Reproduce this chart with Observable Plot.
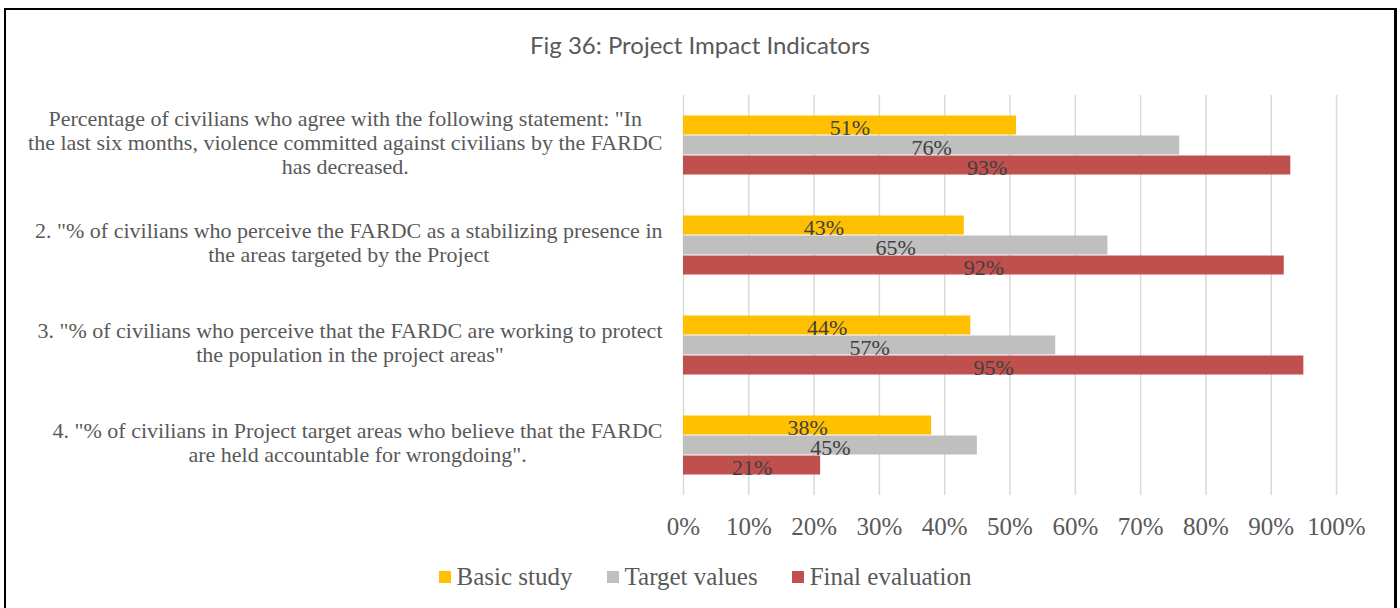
<!DOCTYPE html>
<html><head><meta charset="utf-8">
<script src="https://cdn.jsdelivr.net/npm/d3@7"></script>
<script src="https://cdn.jsdelivr.net/npm/@observablehq/plot@0.6"></script>
<style>
body{margin:0;background:#fff;}
#frame{position:absolute;left:4px;top:8px;width:1388px;height:640px;border:2px solid #000;border-right-width:3px;background:#fff;}
#title{height:70px;line-height:70px;text-align:center;font-family:Lato,sans-serif;font-size:24px;color:#595959;}
#chart svg{display:block;}
#legend{height:74px;display:flex;justify-content:center;align-items:center;font-family:"Liberation Serif",serif;font-size:25px;color:#595959;padding-left:10px;}
.item{display:flex;align-items:center;margin:0 17px;}
.sw{width:12px;height:12px;margin-right:6px;}
</style></head>
<body>
<div id="frame">
  <div id="title">Fig 36: Project Impact Indicators</div>
  <div id="chart"></div>
  <div id="legend"></div>
</div>
<script>
const categories = [
  "Percentage of civilians who agree with the following statement: \"In\nthe last six months, violence committed against civilians by the FARDC\nhas decreased.",
  "2. \"% of civilians who perceive the FARDC as a stabilizing presence in\nthe areas targeted by the Project",
  "3. \"% of civilians who perceive that the FARDC are working to protect\nthe population in the project areas\"",
  "4. \"% of civilians in Project target areas who believe that the FARDC\nare held accountable for wrongdoing\"."
];
const seriesNames = ["Basic study", "Target values", "Final evaluation"];
const seriesColors = ["#FFC000", "#BFBFBF", "#C0504D"];
const basicStudy = [51, 43, 44, 38];
const targetValues = [76, 65, 57, 45];
const finalEvaluation = [93, 92, 95, 21];
const xTicks = [0, 10, 20, 30, 40, 50, 60, 70, 80, 90, 100];

const seriesValues = [basicStudy, targetValues, finalEvaluation];
const data = [];
categories.forEach((c, i) => {
  seriesNames.forEach((s, j) => data.push({category: c, series: s, value: seriesValues[j][i]}));
});

// measure label widths to place the centred text block so its right edge sits just left of the axis
const canvas = document.createElement("canvas");
const ctx = canvas.getContext("2d");
const labelFont = 22;
ctx.font = `${labelFont}px "Liberation Serif"`;
const gap = 21;
const labelMarks = categories.map(c => {
  const w = d3.max(c.split("\n"), l => ctx.measureText(l).width);
  return Plot.text([c], {
    fy: d => d, text: d => d, frameAnchor: "left", textAnchor: "middle",
    dx: -(gap + w / 2), dy: -3, fontSize: labelFont, fill: "#595959", lineHeight: 1.09,
    fontFamily: "Liberation Serif"
  });
});

const chart = Plot.plot({
  width: 1388, height: 460,
  marginTop: 15, marginBottom: 45, marginLeft: 677, marginRight: 58,
  style: {fontFamily: "Liberation Serif", background: "#fff"},
  x: {domain: [0, 100]},
  fy: {domain: categories, padding: 0, axis: null},
  y: {domain: seriesNames, paddingInner: 0, paddingOuter: 0.915, axis: null},
  color: {domain: seriesNames, range: seriesColors},
  marks: [
    Plot.ruleX(xTicks, {x: d => d, stroke: "#d9d9d9", strokeWidth: 1.5}),
    Plot.barX(data, {x: "value", y: "series", fy: "category", fill: "series", insetTop: 0.5, insetBottom: 0.5}),
    Plot.text(data, {x: d => d.value / 2, y: "series", fy: "category", text: d => d.value + "%", fill: "#404040", fontSize: 22, dy: 2}),
    ...labelMarks,
    Plot.axisX({ticks: xTicks, tickFormat: d => d + "%", tickSize: 0, tickPadding: 22, fontSize: 25, fill: "#595959", label: null})
  ]
});
document.getElementById("chart").appendChild(chart);

const legend = document.getElementById("legend");
seriesNames.forEach((s, i) => {
  const it = document.createElement("div");
  it.className = "item";
  it.innerHTML = `<div class="sw" style="background:${seriesColors[i]}"></div><span>${s}</span>`;
  legend.appendChild(it);
});
</script>
</body></html>
